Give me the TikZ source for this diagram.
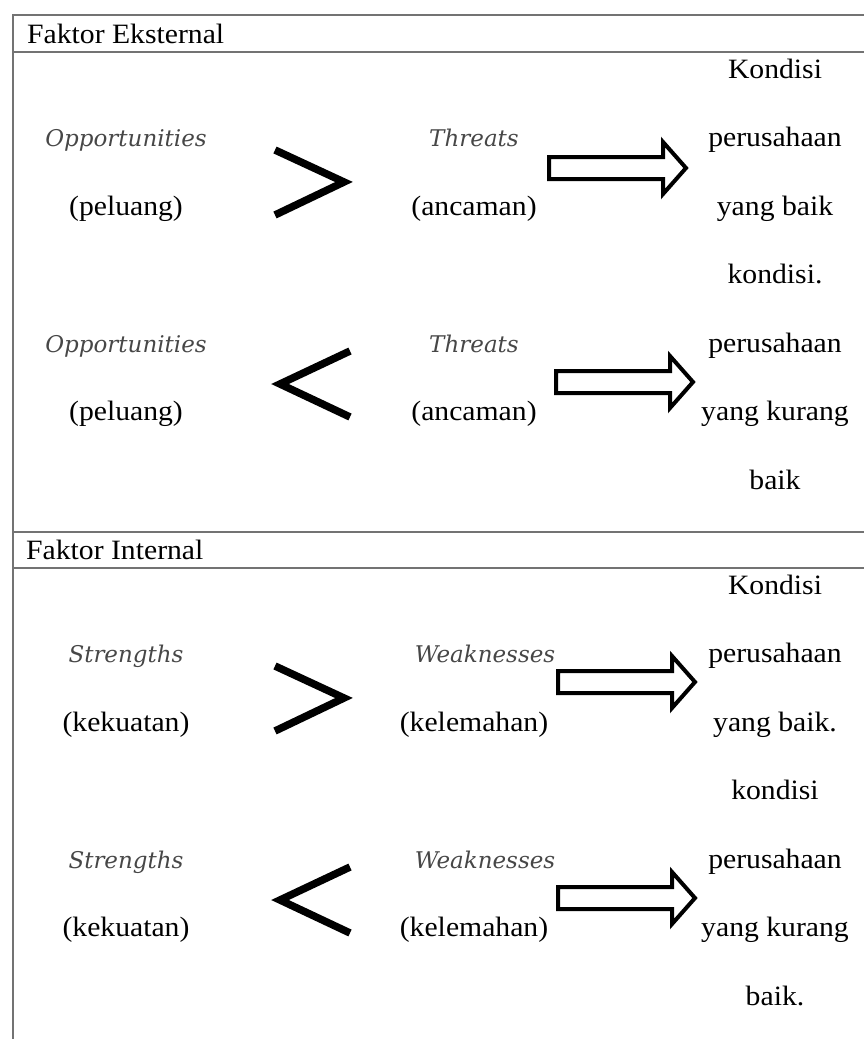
\documentclass[tikz,border=0pt]{standalone}
\usepackage{fontspec}
\setmainfont{Liberation Serif}[FakeStretch=1.06]
\newfontfamily\itfont{DejaVu Serif}
\begin{document}
\begin{tikzpicture}[x=1pt,y=-1pt,
  txt/.style={anchor=base, inner sep=0pt, font=\fontsize{28}{30}\selectfont},
  ital/.style={anchor=base, inner sep=0pt, font=\itfont\itshape\fontsize{23}{26}\selectfont, text=black!72},
  grid/.style={draw=black!55, line width=2.5pt},
  cmp/.style={draw=black, line width=7.5pt, line join=miter},
  blk/.style={draw=black, line width=4pt, fill=white, line join=miter},
  blockarrow/.pic={\draw[blk] (-137,-11) -- (-23,-11) -- (-23,-26) -- (0,0) -- (-23,26) -- (-23,11) -- (-137,11) -- cycle;}]
\useasboundingbox (0,0) rectangle (864,1039);
% table rules
\draw[grid] (13,1039) -- (13,15) -- (864,15);
\draw[grid] (13,52) -- (864,52);
\draw[grid] (13,532) -- (864,532);
\draw[grid] (13,568) -- (864,568);
% headers
\node[txt, anchor=base west] (hext) at (27,43) {Faktor Eksternal};
\node[txt, anchor=base west] (hint) at (26,559) {Faktor Internal};
% external block
\node[txt] (k1) at (775,78) {Kondisi};
\node[ital] (o1) at (126,146.5) {Opportunities};
\node[txt] (p1) at (126,215) {(peluang)};
\node[ital] (t1) at (474,146.5) {Threats};
\node[txt] (a1) at (474,215) {(ancaman)};
\node[txt] (r1a) at (775,146.5) {perusahaan};
\node[txt] (r1b) at (775,215) {yang baik};
\node[txt] (r1c) at (775,283.5) {kondisi.};
\node[ital] (o2) at (126,352) {Opportunities};
\node[txt] (p2) at (126,420.5) {(peluang)};
\node[ital] (t2) at (474,352) {Threats};
\node[txt] (a2) at (474,420.5) {(ancaman)};
\node[txt] (r2a) at (775,352) {perusahaan};
\node[txt] (r2b) at (775,420.5) {yang kurang};
\node[txt] (r2c) at (775,489) {baik};
\draw[cmp] (275,150) -- (344,182) -- (275,215);
\draw[cmp] (350,351) -- (280,384) -- (350,417);
\pic at (686,168) {blockarrow};
\pic at (693,382) {blockarrow};
% internal block
\node[txt] (k2) at (775,594) {Kondisi};
\node[ital] (s1) at (126,662.5) {Strengths};
\node[txt] (ku1) at (126,731) {(kekuatan)};
\node[ital] (w1) at (485,662.5) {Weaknesses};
\node[txt] (ke1) at (474,731) {(kelemahan)};
\node[txt] (q1a) at (775,662.5) {perusahaan};
\node[txt] (q1b) at (775,731) {yang baik.};
\node[txt] (q1c) at (775,799.5) {kondisi};
\node[ital] (s2) at (126,868) {Strengths};
\node[txt] (ku2) at (126,936.5) {(kekuatan)};
\node[ital] (w2) at (485,868) {Weaknesses};
\node[txt] (ke2) at (474,936.5) {(kelemahan)};
\node[txt] (q2a) at (775,868) {perusahaan};
\node[txt] (q2b) at (775,936.5) {yang kurang};
\node[txt] (q2c) at (775,1005) {baik.};
\draw[cmp] (275,666) -- (344,698) -- (275,731);
\draw[cmp] (350,867) -- (280,900) -- (350,933);
\pic at (695,682) {blockarrow};
\pic at (695,898) {blockarrow};
\end{tikzpicture}
\end{document}
